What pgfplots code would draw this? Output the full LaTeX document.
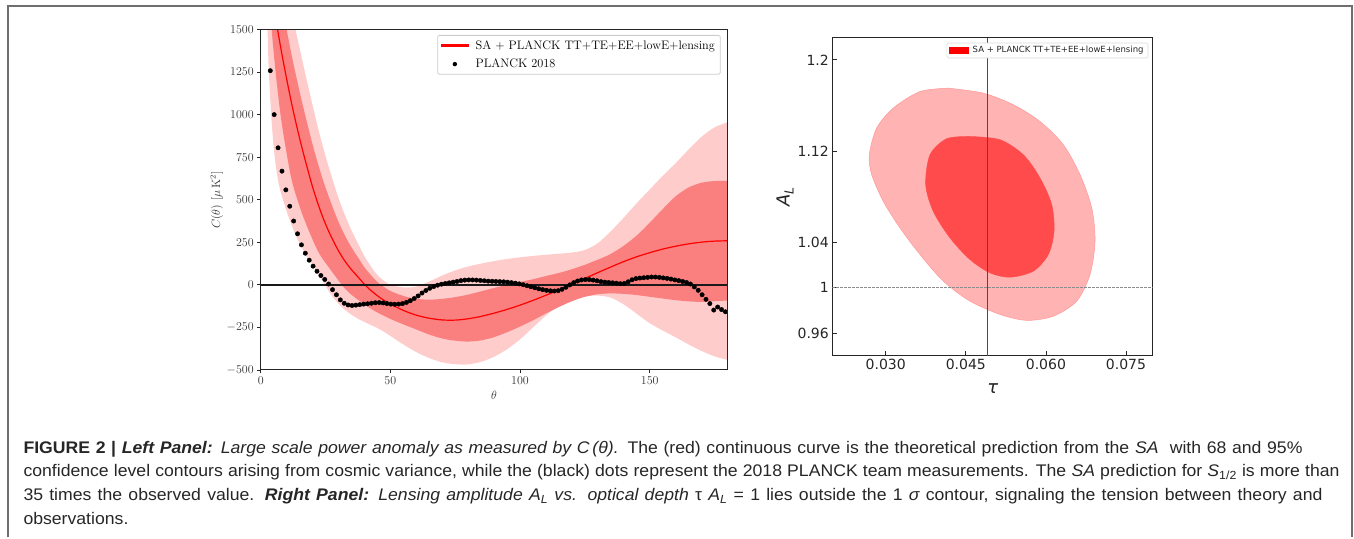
\documentclass[border=0pt]{standalone}
\usepackage{fontspec}
\usepackage{pgfplots}
\pgfplotsset{compat=1.18}
\usepgfplotslibrary{fillbetween}
\newfontfamily\capfont{Liberation Sans}[FakeStretch=1.05]
\newfontfamily\djv{DejaVu Sans}

\definecolor{bandlight}{RGB}{255,204,204}
\definecolor{banddark}{RGB}{250,128,128}
\definecolor{outerc}{RGB}{255,179,179}
\definecolor{innerc}{RGB}{255,75,75}
\definecolor{mplred}{RGB}{255,0,0}
\definecolor{dashgray}{RGB}{140,140,140}
\definecolor{captext}{RGB}{38,38,38}
\definecolor{framegray}{RGB}{110,110,110}

\begin{document}
\begin{tikzpicture}[x=1pt,y=1pt]
\path (0,0) rectangle (1354,538);
\draw[framegray, line width=1.5pt] (8,0.75) -- (8,532) -- (1352,532) -- (1352,0.75);

% ---------------- left panel: C(theta) ----------------
\begin{axis}[
  at={(260.7pt,168pt)}, anchor=south west, scale only axis,
  width=466.8pt, height=340.5pt,
  xmin=0, xmax=180, ymin=-500, ymax=1500,
  xtick={0,50,100,150}, ytick={-500,-250,...,1500},
  tick align=outside, major tick length=3.5pt, tick pos=left,
  axis on top,
  axis line style={line width=1pt, black!85},
  tick style={black!85, line width=0.8pt},
  ticklabel style={font=\fontsize{12}{12}\selectfont, text=black!80},
  yticklabel style={/pgf/number format/1000 sep={}},
  xlabel={$\theta$}, ylabel={$C(\theta)\ [\mu\,\mathrm{K}^2]$},
  label style={font=\fontsize{12}{12}\selectfont, text=black!80},
  xlabel style={at={(axis description cs:0.5,-0.0734)}, anchor=center},
  ylabel style={at={(axis description cs:-0.094,0.499)}, anchor=center},
  legend style={at={(1,1)}, anchor=north east, xshift=-6.8pt, yshift=-5.5pt,
    draw=black!20, line width=0.8pt, rounded corners=2pt,
    font=\fontsize{12.3}{12.3}\selectfont,
    inner xsep=3.5pt, inner ysep=3pt, row sep=4.3pt, cells={anchor=west},
    /tikz/every odd column/.append style={column sep=5pt}},
  legend cell align=left,
]
% 95% band
\addplot[name path=LU, draw=none, smooth, forget plot] coordinates {
(0,2760) (2,2518) (4,2296) (6,2099) (8,1922) (10,1760) (12,1602) (14,1459)
(16,1322) (18,1187) (20,1055) (22,928) (24,811) (26,704) (28,604) (30,510)
(32,428) (34,354) (36,288) (38,228) (40,168) (42,120) (44,76) (46,43) (48,19)
(50,0) (55,-15) (60,-10) (65,20) (70,55) (75,85) (80,108) (85,125) (90,140)
(95,152) (100,162) (105,170) (110,177) (115,183) (120,190) (125,205) (130,245)
(135,315) (140,395) (145,480) (150,560) (155,640) (160,715) (165,795) (170,870)
(175,925) (180,955)};
\addplot[name path=LL, draw=none, smooth, forget plot] coordinates {
(0,2600) (1,2200) (2,1850) (2.5,1600) (3,1300) (4,1010) (5,810) (6,680)
(7,590) (8,530) (10,432) (12,348) (14,275) (16,215) (18,163) (20,117)
(22,70) (24,20) (26,-30) (28,-75) (30,-110) (32,-140) (34,-165) (36,-185)
(38,-203) (40,-218) (42,-232) (44,-246) (46,-262)
(48,-280) (50,-300) (55,-350) (60,-395) (65,-430) (70,-455) (75,-466) (80,-467)
(85,-452) (90,-422) (95,-378) (100,-320) (105,-250) (110,-180) (115,-122)
(120,-85) (125,-68) (130,-63) (135,-75) (140,-115) (145,-170) (150,-225)
(155,-268) (160,-308) (165,-350) (170,-388) (175,-420) (180,-441)};
\addplot[bandlight, forget plot] fill between[of=LU and LL];
% 68% band
\addplot[name path=DU, draw=none, smooth, forget plot] coordinates {
(0,2500) (2,2258) (4,2036) (6,1839) (8,1662) (10,1500) (12,1344) (14,1203)
(16,1070) (18,945) (20,825) (22,716) (24,617) (26,528) (28,446) (30,370)
(32,304) (34,246) (36,196) (38,150) (40,103) (42,66) (44,32) (46,4) (48,-17)
(50,-36) (55,-65) (60,-82) (65,-87) (70,-82) (75,-72) (80,-57) (85,-38)
(90,-18) (95,0) (100,17) (105,33) (110,52) (115,70) (120,92) (125,118)
(130,148) (135,182) (140,230) (145,290) (150,365) (155,445) (160,520)
(165,572) (170,600) (175,610) (180,610)};
\addplot[name path=DL, draw=none, smooth, forget plot] coordinates {
(0,2700) (2,2100) (3,1800) (4.25,1500) (5.75,1250) (7.64,1000) (9.68,800)
(12.2,600) (16.4,400) (22,200) (26.4,100) (31.3,0) (33,-30) (35,-58)
(37,-82) (40,-115) (43,-145) (46,-170) (50,-200) (55,-232) (60,-262)
(65,-292) (70,-315) (75,-328)
(80,-333) (85,-326) (90,-307) (95,-278) (100,-245) (105,-208) (110,-168)
(115,-130) (120,-96) (125,-70) (130,-55) (135,-50) (140,-53) (145,-60)
(150,-70) (155,-80) (160,-90) (165,-97) (170,-100) (175,-96) (180,-92)};
\addplot[banddark, forget plot] fill between[of=DU and DL];
% theoretical prediction
\addplot[draw=mplred, line width=1.2pt, smooth, forget plot]
coordinates {
(0,2200) (2,1960) (4,1740) (6,1545) (8,1370) (10,1210) (12,1060) (14,925)
(16,800) (18,685) (20,575) (22,480) (24,395) (26,322) (28,258) (30,200)
(32,150) (34,108) (36,72) (38,38) (40,3) (42,-26) (44,-52) (46,-75) (48,-95)
(50,-113) (55,-150) (60,-178) (65,-196) (70,-206) (75,-207) (80,-199)
(85,-185) (90,-166) (95,-144) (100,-119) (105,-91) (110,-61) (115,-29)
(120,4) (125,38) (130,72) (135,105) (140,137) (145,165) (150,189) (155,210)
(160,227) (165,241) (170,251) (175,257) (180,259)};
\addplot[black!90, line width=1.6pt, forget plot] coordinates {(0,0) (180,0)};
% PLANCK 2018 measurements
\addplot[only marks, mark=*, mark size=2.2pt, black, forget plot]
coordinates {
(3.7,1258) (5.2,1000) (6.7,805) (8.2,668) (9.7,558) (11.2,462) (12.7,375)
(14.2,300) (15.7,235) (17.2,186) (18.7,145) (20.2,110) (21.7,80) (23.2,55)
(24.7,32) (26.2,5) (27.7,-28) (29.2,-58) (30.7,-88) (32.2,-108) (33.7,-118)
(35.2,-121) (36.7,-119) (38.2,-116) (39.7,-113) (41.2,-111) (42.7,-108)
(44.2,-105) (45.7,-104) (47.2,-106) (48.7,-110) (50.2,-113) (51.7,-114)
(53.2,-113) (54.7,-110) (56.2,-103) (57.7,-93) (59.2,-80) (60.7,-65)
(62.2,-48) (63.7,-33) (65.2,-20) (66.7,-10) (68.2,-2) (69.7,4) (71.2,8)
(72.7,12) (74.2,16) (75.7,20) (77.2,25) (78.7,28) (80.2,29) (81.7,29)
(83.2,28) (84.7,26) (86.2,24) (87.7,22) (89.2,21) (90.7,20) (92.2,19)
(93.7,18) (95.2,16) (96.7,13) (98.2,10) (99.7,6) (101.2,1) (102.7,-5)
(104.2,-11) (105.7,-17) (107.2,-23) (108.7,-28) (110.2,-32) (111.7,-35)
(113.2,-36) (114.7,-34) (116.2,-26) (117.7,-14) (119.2,0) (120.7,13)
(122.2,23) (123.7,29) (125.2,31) (126.7,31) (128.2,28) (129.7,24) (131.2,19)
(132.7,16) (134.2,14) (135.7,12) (137.2,10) (138.7,7) (140.2,8) (141.7,18)
(143.2,30) (144.7,37) (146.2,40) (147.7,42) (149.2,44) (150.7,46) (152.2,46)
(153.7,44) (155.2,41) (156.7,38) (158.2,34) (159.7,29) (161.2,25) (162.7,20)
(164.2,14) (165.7,5) (167.2,-12) (168.7,-32) (170.2,-58) (171.7,-85)
(173.2,-110) (174.7,-148) (176.2,-130) (177.7,-145) (179.2,-158)};
\addlegendimage{legend image code/.code={\fill[mplred, sharp corners] (0pt,-0.65pt) rectangle (26.6pt,0.65pt);}}
\addlegendentry{SA + PLANCK TT+TE+EE+lowE+lensing}
\addlegendimage{legend image code/.code={\fill[black, draw=none] (13.3pt,0pt) circle (2.2pt);}}
\addlegendentry{PLANCK 2018}
\end{axis}

% ---------------- right panel: A_L vs tau ----------------
\begin{axis}[
  at={(832.3pt,182pt)}, anchor=south west, scale only axis,
  width=320.4pt, height=318.3pt,
  xmin=0.020, xmax=0.080, ymin=0.94, ymax=1.2195,
  scaled x ticks=false, scaled y ticks=false,
  xtick={0.03,0.045,0.06,0.075}, xticklabels={0.030,0.045,0.060,0.075},
  ytick={0.96,1,1.04,1.12,1.2}, yticklabels={0.96,1,1.04,1.12,1.2},
  tick align=inside, major tick length=5pt, tick pos=left,
  axis line style={line width=1pt, black!85},
  tick style={black!85, line width=0.8pt},
  ticklabel style={font=\djv\fontsize{14}{14}\selectfont, text=black!85},
  xlabel={\djv\itshape τ},
  ylabel={\djv\itshape A\raisebox{-4pt}{\fontsize{12.5}{12.5}\selectfont L}},
  label style={font=\fontsize{18}{18}\selectfont, text=black!85},
  xlabel style={at={(axis description cs:0.5006,-0.1037)}, anchor=center},
  ylabel style={at={(axis description cs:-0.1476,0.5005)}, anchor=center},
  legend style={at={(1,1)}, anchor=north east, xshift=-4.4pt, yshift=-5pt,
    draw=black!15, line width=0.6pt, rounded corners=1.5pt,
    font=\djv\fontsize{8.5}{8.5}\selectfont, text=black!85,
    inner xsep=2.5pt, inner ysep=1.5pt, cells={anchor=west},
    /tikz/every odd column/.append style={column sep=2pt}},
]
% 95% contour
\addplot[fill=outerc, draw=outerc!85!red, line width=0.5pt, smooth, forget plot] coordinates {
(0.04172,1.1752) (0.04828,1.1708) (0.05390,1.1606) (0.05890,1.1459)
(0.06326,1.1255) (0.06639,1.0992) (0.06858,1.0700) (0.06920,1.0408)
(0.06826,1.0116) (0.06577,0.9882) (0.06139,0.9750) (0.05640,0.9713)
(0.05140,0.9765) (0.04578,0.9882) (0.04079,1.0057) (0.03642,1.0291)
(0.03268,1.0525) (0.02955,1.0758) (0.02738,1.0992) (0.02693,1.1167)
(0.02831,1.1401) (0.03142,1.1577) (0.03642,1.1722) (0.04172,1.1752)} -- cycle;
% 68% contour
\addplot[fill=innerc, draw=innerc, line width=0.4pt, smooth, forget plot] coordinates {
(0.04578,1.1328) (0.05140,1.1299) (0.05577,1.1167) (0.05890,1.0963)
(0.06109,1.0729) (0.06152,1.0495) (0.06045,1.0291) (0.05764,1.0145)
(0.05328,1.0092) (0.04953,1.0130) (0.04578,1.0247) (0.04204,1.0437)
(0.03891,1.0670) (0.03749,1.0904) (0.03830,1.1167) (0.04142,1.1308)
(0.04578,1.1328)} -- cycle;
% reference value of tau
\addplot[color=mplred, draw=mplred, line width=1pt, smooth, forget plot]
  coordinates {(0.049,0.94) (0.049,1.08) (0.049,1.2195)};
\addplot[color=dashgray, draw=dashgray, line width=0.8pt, dash pattern=on 2.5pt off 1.5pt, forget plot]
  coordinates {(0.02,1) (0.08,1)};
\addlegendimage{legend image code/.code={\fill[mplred, sharp corners] (0pt,-3pt) rectangle (18.7pt,3pt);}}
\addlegendentry{SA + PLANCK TT+TE+EE+lowE+lensing}
\end{axis}

% ---------------- caption ----------------
\begin{scope}[every node/.style={anchor=base west, inner sep=0pt,
    font=\capfont\fontsize{16.8}{16.8}\selectfont, text=captext}]
\node at (23.3,84.7) {\makebox[1279pt][s]{{\bfseries FIGURE 2 |} {\bfseries\itshape Left Panel:} {\itshape Large scale power anomaly as measured by C\,(θ).} The (red) continuous curve is the theoretical prediction from the {\itshape SA}\ \ with 68 and 95\%}};
\node at (23.3,61.3) {\makebox[1316pt][s]{confidence level contours arising from cosmic variance, while the (black) dots represent the 2018 PLANCK team measurements. The {\itshape SA} prediction for {\itshape S}\textsubscript{1/2} is more than}};
\node at (23.3,37.3) {\makebox[1299pt][s]{35 times the observed value. {\bfseries\itshape Right Panel:} {\itshape Lensing amplitude A\textsubscript{L} vs. optical depth} τ {\itshape A\textsubscript{L}} = 1 lies outside the 1 {\itshape σ} contour, signaling the tension between theory and}};
\node at (23.3,13.7) {observations.};
\end{scope}
\end{tikzpicture}
\end{document}
